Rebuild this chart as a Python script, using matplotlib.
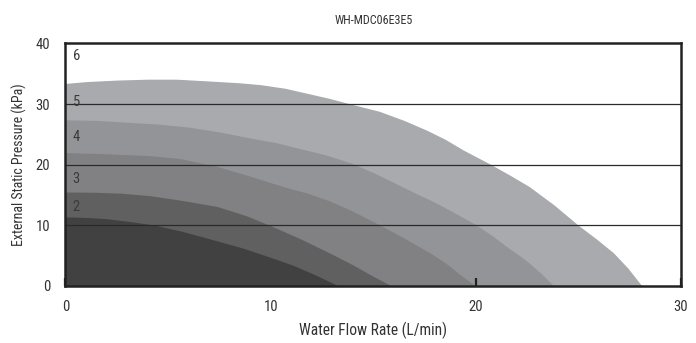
import matplotlib
matplotlib.use("Agg")
import matplotlib.pyplot as plt
import logging
logging.getLogger("matplotlib.font_manager").setLevel(logging.ERROR)

# ---- data ----
title = "WH-MDC06E3E5"
x_label = "Water Flow Rate (L/min)"
y_label = "External Static Pressure (kPa)"
x_ticks = [0, 10, 20, 30]
y_ticks = [0, 10, 20, 30, 40]
grid_levels = [10, 20, 30]

curve5_x = [0, 1.0, 2.5, 4.0, 5.4, 7.0, 8.5, 9.5, 10.7, 12.0, 12.9, 13.9, 15.3, 16.5, 17.6,
            18.5, 19.4, 20.7, 21.7, 22.6, 23.8, 25.0, 25.9, 26.7, 27.4, 28.1]
curve5_y = [33.4, 33.7, 33.95, 34.1, 34.1, 33.8, 33.5, 33.2, 32.6, 31.6, 30.9, 30.0, 28.8, 27.3, 25.7,
            24.2, 22.4, 20.1, 18.2, 16.4, 13.4, 10.0, 7.7, 5.5, 3.0, 0]

curve4_x = [0, 1.5, 3.0, 4.5, 6.0, 7.5, 9.0, 10.3, 11.5, 12.7, 13.9, 15.0, 16.1, 17.0, 18.0,
            19.0, 20.0, 20.8, 21.5, 22.1, 22.6, 23.2, 23.8]
curve4_y = [27.4, 27.3, 27.0, 26.7, 26.2, 25.4, 24.4, 23.6, 22.6, 21.6, 20.3, 18.7, 16.9, 15.4, 13.8,
            12.0, 10.1, 8.3, 6.5, 5.1, 3.8, 2.0, 0]

curve3_x = [0, 2.0, 4.1, 5.6, 7.4, 9.0, 10.6, 11.8, 12.9, 13.9, 15.3, 16.5, 17.8, 18.6, 19.3, 20.0]
curve3_y = [22.0, 21.8, 21.5, 21.0, 19.7, 18.1, 16.4, 15.3, 14.0, 12.5, 10.1, 7.9, 5.4, 3.6, 1.7, 0]

curve2_x = [0, 1.5, 2.7, 4.1, 5.7, 7.4, 8.8, 10.1, 11.5, 12.9, 14.0, 15.0, 15.9]
curve2_y = [15.5, 15.45, 15.3, 14.9, 14.1, 13.1, 11.6, 9.8, 7.7, 5.4, 3.5, 1.6, 0]

curve1_x = [0, 1.0, 2.0, 3.2, 4.4, 5.7, 7.0, 8.6, 10.1, 11.1, 12.0, 12.7, 13.3]
curve1_y = [11.4, 11.3, 11.1, 10.6, 10.0, 9.0, 7.8, 6.3, 4.6, 3.4, 2.1, 1.0, 0]

band_labels = ["2", "3", "4", "5", "6"]
band_label_y = [13.0, 17.7, 24.6, 30.3, 38.0]

curves = [
    (curve5_x, curve5_y, "#a9aaad"),
    (curve4_x, curve4_y, "#939497"),
    (curve3_x, curve3_y, "#818184"),
    (curve2_x, curve2_y, "#606061"),
    (curve1_x, curve1_y, "#414141"),
]

font = {"family": ["Roboto Condensed", "Liberation Sans Narrow", "Roboto", "DejaVu Sans"]}
txt_color = "#333333"

fig = plt.figure(figsize=(6.96, 3.43), dpi=100)
ax = fig.add_axes([0.0941, 0.1662, 0.8843, 0.7073])

for i, (cx, cy, col) in enumerate(curves):
    ax.fill_between(cx, cy, 0, color=col, linewidth=0, zorder=1 + i)

for lv in grid_levels:
    ax.axhline(lv, color="#2a2a2a", linewidth=0.9, zorder=10)

for lab, ly in zip(band_labels, band_label_y):
    ax.text(0.35, ly, lab, fontsize=10.5, color="#3a3a3a", ha="left", va="center",
            zorder=11, **font)

ax.set_xlim(0, 30)
ax.set_ylim(0, 40)
ax.set_xticks(x_ticks)
ax.set_yticks(y_ticks)
ax.set_xticklabels([str(t) for t in x_ticks], fontsize=10.5, color=txt_color, **font)
ax.set_yticklabels([str(t) for t in y_ticks], fontsize=10.5, color=txt_color, **font)
ax.tick_params(axis="x", direction="in", length=6, width=1.6, color="#222222", pad=10)
ax.tick_params(axis="y", length=0, pad=11)
for t in ax.xaxis.get_major_ticks():
    t.tick1line.set_zorder(12)
ax.set_axisbelow(False)

for sp in ax.spines.values():
    sp.set_linewidth(1.8)
    sp.set_color("#222222")
    sp.set_zorder(13)

ax.set_xlabel(x_label, fontsize=11.2, color=txt_color, labelpad=6, **font)
ax.set_ylabel(y_label, fontsize=10, color=txt_color, labelpad=6, **font)
ax.set_title(title, fontsize=8.7, color=txt_color, pad=14, **font)

fig.savefig("out.png", dpi=100)
